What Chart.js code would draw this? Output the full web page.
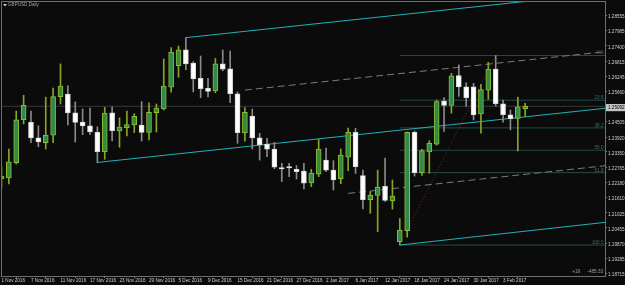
<!DOCTYPE html>
<html><head><meta charset="utf-8">
<script src="https://cdn.jsdelivr.net/npm/chart.js@4.4.1/dist/chart.umd.min.js"></script>
<style>html,body{margin:0;padding:0;background:#0b0b0b;overflow:hidden}canvas{display:block}</style>
</head><body>
<canvas id="c" width="625" height="285"></canvas>
<script>
// ---- data ----
const dates = ["1 Nov 2016","2 Nov 2016","3 Nov 2016","4 Nov 2016","7 Nov 2016","8 Nov 2016","9 Nov 2016","10 Nov 2016","11 Nov 2016","14 Nov 2016","15 Nov 2016","16 Nov 2016","17 Nov 2016","18 Nov 2016","21 Nov 2016","22 Nov 2016","23 Nov 2016","24 Nov 2016","25 Nov 2016","28 Nov 2016","29 Nov 2016","30 Nov 2016",
"1 Dec 2016","2 Dec 2016","5 Dec 2016","6 Dec 2016","7 Dec 2016","8 Dec 2016","9 Dec 2016","12 Dec 2016","13 Dec 2016","14 Dec 2016","15 Dec 2016","16 Dec 2016","19 Dec 2016","20 Dec 2016","21 Dec 2016","22 Dec 2016","23 Dec 2016","26 Dec 2016","27 Dec 2016","28 Dec 2016","29 Dec 2016","30 Dec 2016",
"2 Jan 2017","3 Jan 2017","4 Jan 2017","5 Jan 2017","6 Jan 2017","9 Jan 2017","10 Jan 2017","11 Jan 2017","12 Jan 2017","13 Jan 2017","16 Jan 2017","17 Jan 2017","18 Jan 2017","19 Jan 2017","20 Jan 2017","23 Jan 2017","24 Jan 2017","25 Jan 2017","26 Jan 2017","27 Jan 2017","30 Jan 2017","31 Jan 2017",
"1 Feb 2017","2 Feb 2017","3 Feb 2017","6 Feb 2017","7 Feb 2017","8 Feb 2017"];

const open  = [1.2232,1.2236,1.2294,1.2458,1.2448,1.2389,1.2370,1.2399,1.2546,1.2556,1.2484,1.2449,1.2435,1.2410,1.2336,1.2484,1.2415,1.2428,1.2438,1.2438,1.2410,1.2485,
               1.2499,1.2582,1.2664,1.2725,1.2674,1.2616,1.2578,1.2568,1.2671,1.2652,1.2557,1.2409,1.2472,1.2389,1.2365,1.2346,1.2275,1.2279,1.2269,1.2262,1.2217,1.2250,
               1.2304,1.2266,1.2233,1.2315,1.2410,1.2245,1.2153,1.2169,1.2204,1.2148,1.1993,1.2035,1.2410,1.2256,1.2335,1.2365,1.2529,1.2513,1.2626,1.2583,1.2583,1.2480,
               1.2571,1.2651,1.2519,1.2477,1.2463,1.2500];
const high  = [1.2278,1.2346,1.2491,1.2551,1.2491,1.2435,1.2544,1.2579,1.2671,1.2587,1.2526,1.2499,1.2502,1.2431,1.2505,1.2507,1.2465,1.2491,1.2481,1.2527,1.2522,1.2518,
               1.2690,1.2733,1.2739,1.2771,1.2679,1.2701,1.2616,1.2692,1.2724,1.2720,1.2564,1.2504,1.2499,1.2406,1.2387,1.2372,1.2292,1.2292,1.2283,1.2292,1.2269,1.2383,
               1.2350,1.2302,1.2346,1.2426,1.2425,1.2266,1.2184,1.2266,1.2312,1.2228,1.2081,1.2411,1.2415,1.2345,1.2378,1.2533,1.2542,1.2635,1.2667,1.2599,1.2597,1.2593,
               1.2677,1.2703,1.2533,1.2495,1.2544,1.2521];
const low   = [1.2198,1.2213,1.2289,1.2442,1.2370,1.2355,1.2346,1.2370,1.2518,1.2438,1.2373,1.2401,1.2401,1.2294,1.2307,1.2377,1.2353,1.2396,1.2409,1.2377,1.2381,1.2411,
               1.2495,1.2563,1.2620,1.2649,1.2564,1.2542,1.2545,1.2561,1.2645,1.2523,1.2368,1.2376,1.2346,1.2304,1.2317,1.2271,1.2222,1.2241,1.2232,1.2194,1.2203,1.2241,
               1.2260,1.2190,1.2214,1.2264,1.2253,1.2118,1.2101,1.2031,1.2146,1.2117,1.1980,1.2010,1.2243,1.2246,1.2254,1.2361,1.2413,1.2483,1.2547,1.2509,1.2457,1.2407,
               1.2536,1.2510,1.2449,1.2419,1.2339,1.2470];
const close = [1.2243,1.2297,1.2458,1.2513,1.2389,1.2373,1.2399,1.2546,1.2586,1.2484,1.2448,1.2434,1.2411,1.2336,1.2483,1.2416,1.2430,1.2439,1.2471,1.2410,1.2486,1.2502,
               1.2586,1.2716,1.2725,1.2671,1.2614,1.2576,1.2566,1.2671,1.2651,1.2557,1.2409,1.2486,1.2389,1.2362,1.2346,1.2277,1.2270,1.2274,1.2260,1.2216,1.2254,1.2346,
               1.2266,1.2228,1.2323,1.2410,1.2279,1.2153,1.2171,1.2201,1.2150,1.2167,1.2037,1.2410,1.2256,1.2340,1.2368,1.2527,1.2513,1.2625,1.2583,1.2542,1.2476,1.2573,
               1.2651,1.2519,1.2477,1.2462,1.2507,1.25092];

const yTickValues = [1.28555,1.27985,1.27400,1.26815,1.26245,1.25660,1.24505,1.23920,1.23350,1.22765,1.22180,1.21610,1.21025,1.20455,1.19870,1.19285,1.18715];
const xTickBars = [0,4,8,12,16,20,24,28,32,36,40,44,48,52,56,60,64,68];

// drawn objects: [bar index, price]
const channelUpper  = [[25,1.2771],[82,1.2942]];
const channelLower  = [[13,1.2295],[82,1.2502]];
const channelMid    = [[33,1.2571],[82,1.2718]];
const channel2Mid   = [[47,1.2177],[82,1.2283]];
const channel2Lower = [[54,1.1980],[82,1.2067]];
const fibFrom = [54,1.1980];
const fibTo   = [67,1.2703];
const fibLevels = [0.0,23.6,38.2,50.0,61.8,100.0];
const lastPrice = close[close.length-1];

// ---- styles ----
const BG='#0b0b0b', FRAME='#6e6e6e', AXIS_TEXT='#cfcfcf';
const BULL_FILL='#2f8c47', BULL_EDGE='#93b92f', BULL_WICK='#85a626';
const BEAR_FILL='#ffffff', BEAR_EDGE='#d8d8d8', BEAR_WICK='#8a8a8a';
const CYAN='#1fb3bb', DASH='#7c7c7c', FIB='#264a4a', FIB_TEXT='#3f7474', FIB_TREND='#8a1e1e';
const FONT='"Liberation Sans", Arial, sans-serif';
Chart.defaults.font.family = FONT;

const isBull = i => close[i] >= open[i];
const pts = arr => arr.map(p => ({x:p[0], y:p[1]}));
const fibPrice = l => fibTo[1] - (fibTo[1]-fibFrom[1])*l/100;

const lineDs = (arr, color, dash) => ({type:'line', data:pts(arr), borderColor:color, borderWidth:1,
  borderDash:dash||[], pointRadius:0, fill:false, tension:0, order:10});

const datasets = [
  {type:'bar', data: dates.map((d,i)=>({x:i, y:[low[i],high[i]]})), barThickness:1, grouped:false,
   backgroundColor: c => isBull(c.dataIndex)?BULL_WICK:BEAR_WICK, borderWidth:0, order:2},
  {type:'bar', data: dates.map((d,i)=>({x:i, y:[open[i],close[i]]})), barThickness:5, grouped:false,
   backgroundColor: c => isBull(c.dataIndex)?BULL_FILL:BEAR_FILL,
   borderColor: c => isBull(c.dataIndex)?BULL_EDGE:BEAR_EDGE,
   borderWidth:1, borderSkipped:false, minBarLength:1, order:1},
  lineDs([[0,lastPrice],[82,lastPrice]], '#383838'),
  lineDs(channelUpper, CYAN), lineDs(channelLower, CYAN), lineDs(channel2Lower, CYAN),
  lineDs(channelMid, DASH, [7,4]), lineDs(channel2Mid, DASH, [7,4]),
  ...fibLevels.map(l => lineDs([[fibFrom[0],fibPrice(l)],[82,fibPrice(l)]], FIB)),
  lineDs([fibFrom, fibTo], FIB_TREND, [1,2])
];

const decor = {
  id:'decor',
  beforeDraw(c){ const x=c.ctx; x.save(); x.fillStyle=BG; x.fillRect(0,0,c.width,c.height); x.restore(); },
  afterDraw(c){
    const ctx=c.ctx, a=c.chartArea, ys=c.scales.y;
    ctx.save();
    ctx.font = '4.6px '+FONT;
    // fib labels
    ctx.fillStyle=FIB_TEXT; ctx.textAlign='right'; ctx.textBaseline='alphabetic';
    fibLevels.forEach(l => ctx.fillText(l.toFixed(1), a.right-1.5, ys.getPixelForValue(fibPrice(l))-1));
    // frame
    ctx.strokeStyle=FRAME; ctx.lineWidth=1;
    ctx.strokeRect(a.left-0.5, a.top-0.5, a.right-a.left+1, a.bottom-a.top+1);
    // current price box
    const py = ys.getPixelForValue(lastPrice);
    ctx.fillStyle='#c4c4c4'; ctx.fillRect(a.right+1, py-2.3, 19, 7.2);
    ctx.fillStyle='#000'; ctx.textAlign='left'; ctx.textBaseline='middle';
    ctx.fillText(lastPrice.toFixed(5), a.right+3, py+1.4);
    // title
    ctx.fillStyle='#c8c8c8';
    ctx.beginPath(); ctx.moveTo(3,4); ctx.lineTo(7,4); ctx.lineTo(5,6.5); ctx.closePath(); ctx.fill();
    ctx.fillStyle='#a0a0a0'; ctx.textAlign='left';
    ctx.fillText('GBPUSD,Daily', 8, 5);
    // footer
    ctx.textAlign='right';
    ctx.fillText('+19', 580, 271.7);
    ctx.fillText('-485:33', 603, 271.7);
    ctx.restore();
  }
};

new Chart(document.getElementById('c'), {
  type:'bar',
  data:{datasets},
  options:{
    responsive:false, animation:false, events:[],
    layout:{padding:{left:2, top:2, right:0, bottom:0}},
    plugins:{legend:{display:false}, tooltip:{enabled:false}},
    scales:{
      x:{type:'linear', min:0.07, max:81.82, offset:false,
         afterBuildTicks: s => { s.ticks = xTickBars.map(v=>({value:v})); },
         afterFit: s => { s.height = 9; s.paddingLeft = 0; s.paddingRight = 0; },
         ticks:{autoSkip:false, maxRotation:0, minRotation:0, align:'start', padding:-0.5, color:AXIS_TEXT,
                font:{size:4.6}, callback: v => dates[v]},
         grid:{drawOnChartArea:false, drawTicks:true, tickLength:2, color:'#7a7a7a'},
         border:{display:false}},
      y:{position:'right', min:1.18619, max:1.2907,
         afterBuildTicks: s => { s.ticks = yTickValues.map(v=>({value:v})); },
         afterFit: s => { s.width = 20; s.paddingTop = 0; s.paddingBottom = 0; },
         ticks:{autoSkip:false, padding:1, labelOffset:1.5, color:AXIS_TEXT, font:{size:4.6},
                callback: v => Number(v).toFixed(5)},
         grid:{drawOnChartArea:false, drawTicks:true, tickLength:2, color:'#7a7a7a'},
         border:{display:false}}
    }
  },
  plugins:[decor]
});
</script>
</body></html>
